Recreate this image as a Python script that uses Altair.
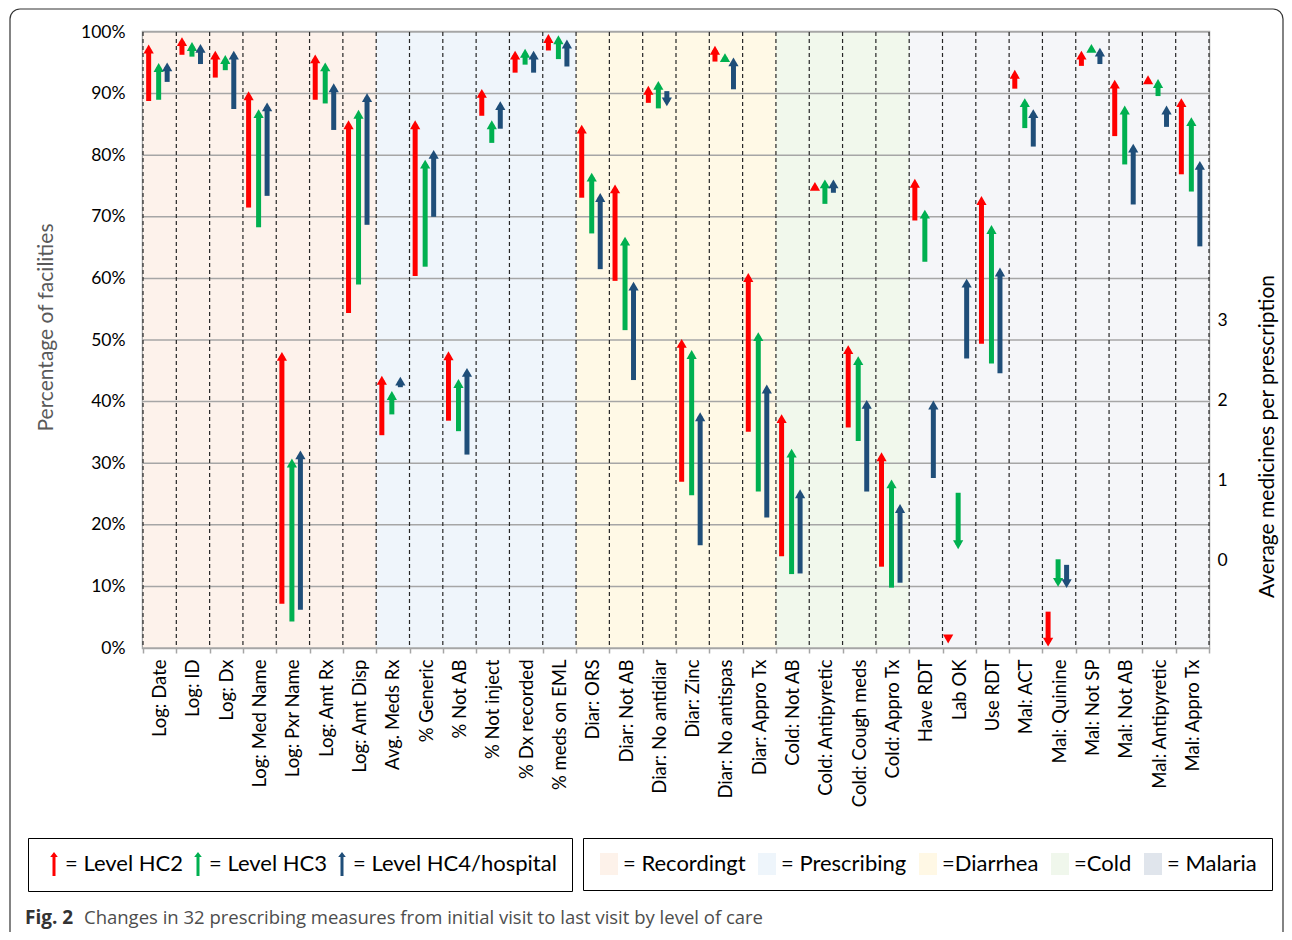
import altair as alt
import pandas as pd

# ---------------- data ----------------
categories = [
    "Log: Date", "Log: ID", "Log: Dx", "Log: Med Name", "Log: Pxr Name", "Log: Amt Rx", "Log: Amt Disp",
    "Avg. Meds Rx", "% Generic", "% Not AB", "% Not inject", "% Dx recorded", "% meds on EML",
    "Diar: ORS", "Diar: Not AB", "Diar: No antidiar", "Diar: Zinc", "Diar: No antispas", "Diar: Appro Tx",
    "Cold: Not AB", "Cold: Antipyretic", "Cold: Cough meds", "Cold: Appro Tx",
    "Have RDT", "Lab OK", "Use RDT", "Mal: ACT", "Mal: Quinine", "Mal: Not SP", "Mal: Not AB",
    "Mal: Antipyretic", "Mal: Appro Tx",
]
group_names = ["Recordingt", "Prescribing", "Diarrhea", "Cold", "Malaria"]
group_sizes = [7, 6, 6, 4, 9]
group_labels = ["= Recordingt", "= Prescribing", "=Diarrhea", "=Cold", "= Malaria"]
group_colors = ["#FBE5D6", "#DEEBF7", "#FFF2CC", "#E2F0D9", "#D6DCE5"]
# how much the plot-area bands are washed out relative to the legend swatches
group_washout = [0.5, 0.5, 0.5, 0.5, 0.75]

level_names = ["Level HC2", "Level HC3", "Level HC4/hospital"]
level_colors = ["#FF0000", "#00B050", "#1F4E79"]
level_xoffsets = [-11, -1, 7.5]

# percentage measures (None = measured on the medicines axis)
hc2_start = [88.8, 96.3, 92.6, 71.5, 7.2, 89.0, 54.4, None, 60.4, 36.9, 86.4, 93.4, 97.0,
             73.1, 59.6, 88.5, 27.0, 95.2, 35.1, 14.9, 74.6, 35.8, 13.2,
             69.4, 2.1, 49.4, 90.8, 5.9, 94.5, 83.1, 91.8, 76.9]
hc2_end = [98.2, 99.4, 97.2, 90.6, 48.3, 96.6, 85.9, None, 85.9, 48.4, 91.0, 97.2, 99.9,
           85.2, 75.5, 91.5, 50.4, 98.0, 61.1, 38.2, 75.9, 49.4, 32.0,
           76.4, 0.5, 73.6, 94.1, 0.0, 97.2, 92.5, 93.2, 89.5]
hc3_start = [89.0, 96.0, 93.8, 68.3, 4.3, 88.4, 59.0, None, 61.9, 35.2, 82.0, 94.7, 95.6,
             67.3, 51.6, 87.6, 24.8, 95.5, 25.4, 12.0, 72.1, 33.6, 9.8,
             62.7, 25.2, 46.2, 84.4, 14.4, 97.0, 78.5, 89.6, 74.1]
hc3_end = [95.2, 98.6, 96.5, 87.7, 31.0, 95.3, 87.6, None, 79.5, 43.9, 85.9, 97.5, 99.7,
           77.4, 67.0, 92.3, 48.6, 96.8, 51.5, 32.6, 76.3, 47.6, 27.6,
           71.4, 15.8, 68.9, 89.5, 9.7, 98.3, 88.3, 92.6, 86.4]
hc4_start = [91.9, 94.8, 87.5, 73.4, 6.2, 84.1, 68.7, None, 70.0, 31.4, 84.3, 93.4, 94.4,
             61.5, 43.5, 90.4, 16.7, 90.7, 21.2, 12.1, 73.9, 25.4, 10.6,
             27.6, 47.0, 44.6, 81.4, 13.5, 94.8, 72.0, 84.6, 65.2]
hc4_end = [95.3, 98.3, 97.2, 88.8, 32.3, 91.9, 90.3, None, 81.1, 45.7, 89.0, 97.2, 99.0,
           74.1, 59.7, 87.7, 38.5, 96.1, 43.0, 26.0, 76.3, 40.5, 23.6,
           40.4, 60.2, 62.0, 87.7, 9.5, 97.7, 82.1, 88.3, 79.3]

# average medicines per prescription (right axis)
avg_meds_category = "Avg. Meds Rx"
avg_meds_start = [1.56, 1.82, 2.16]
avg_meds_end = [2.32, 2.13, 2.31]

pct_ticks = list(range(0, 101, 10))
meds_ticks = [0, 1, 2, 3]
meds_domain = [-1.1, 6.6]

caption_bold = "Fig. 2"
caption_text = "Changes in 32 prescribing measures from initial visit to last visit by level of care"
left_title = "Percentage of facilities"
right_title = "Average medicines per prescription"

# ---------------- tables ----------------
cat_groups = []
for g, n in zip(group_names, group_sizes):
    cat_groups += [g] * n
band_df = pd.DataFrame({"cat": categories, "group": cat_groups})

rows = []
for lvl, s_list, e_list in zip(level_names, [hc2_start, hc3_start, hc4_start], [hc2_end, hc3_end, hc4_end]):
    for cat, s, e in zip(categories, s_list, e_list):
        if s is None:
            continue
        rows.append({"cat": cat, "level": lvl, "start": s, "end": e})
pct_df = pd.DataFrame(rows)
meds_df = pd.DataFrame({"cat": [avg_meds_category] * 3, "level": level_names,
                        "start": avg_meds_start, "end": avg_meds_end})
one_row = pd.DataFrame({"k": [0]})

# ---------------- scales / axes / legends ----------------
FONT = "Lato"
x_scale = alt.Scale(type="band", domain=categories, paddingInner=0, paddingOuter=0)
x_axis = alt.Axis(title=None, labelAngle=270, labelFont=FONT, labelFontSize=18.5, labelColor="black",
                  tickBand="extent", ticks=True, tickColor="#A6A6A6", tickSize=5, tickWidth=1.5,
                  domain=False, grid=False, labelPadding=6)
y_scale = alt.Scale(domain=[0, 100], nice=False, zero=False)
y_axis = alt.Axis(values=pct_ticks, labelExpr="datum.value + '%'", title=left_title,
                  titleFont=FONT, titleFontSize=21, titleFontWeight="normal", titleColor="#595959",
                  titleAngle=270, titleX=-87, titleY=295, titleBaseline="bottom",
                  labelFont=FONT, labelFontSize=17.5, labelColor="black", labelPadding=18,
                  ticks=False, domain=False, grid=False)
meds_scale = alt.Scale(domain=meds_domain, nice=False, zero=False)
meds_axis = alt.Axis(orient="right", values=meds_ticks, title=right_title,
                     titleFont=FONT, titleFontSize=21, titleFontWeight="normal", titleColor="black",
                     titleAngle=270, titleX=68, titleY=404, titleBaseline="bottom",
                     labelFont=FONT, labelFontSize=17.5, labelColor="black", labelPadding=8,
                     ticks=False, domain=False, grid=False)

arrow_path = "M-0.15,1.2 L-0.15,-0.7 L-0.38,-0.7 L0,-1.2 L0.38,-0.7 L0.15,-0.7 L0.15,1.2 Z"
swatch_path = "M-0.9,-1.1 L0.9,-1.1 L0.9,1.1 L-0.9,1.1 Z"

level_legend = alt.Legend(title=None, orient="none", legendX=-115, legendY=806, direction="horizontal",
                          labelExpr="'= ' + datum.label", labelFont=FONT, labelFontSize=22,
                          labelColor="black", labelLimit=400, labelOffset=0,
                          symbolType=arrow_path, symbolSize=400, symbolStrokeWidth=0, symbolOpacity=1,
                          columnPadding=4, padding=15, strokeColor="black")
group_expr = "datum.label"
for g, l in reversed(list(zip(group_names, group_labels))):
    group_expr = f"datum.label == '{g}' ? '{l}' : ({group_expr})"
group_legend = alt.Legend(title=None, orient="none", legendX=440, legendY=806, direction="horizontal",
                          labelExpr=group_expr, labelFont=FONT, labelFontSize=22, labelColor="black",
                          labelLimit=400, labelOffset=3, symbolType=swatch_path, symbolSize=400,
                          symbolStrokeWidth=0, symbolOpacity=1, columnPadding=10, padding=15,
                          strokeColor="black")

color_enc = alt.Color("level:N", scale=alt.Scale(domain=level_names, range=level_colors), legend=level_legend)
X = alt.X("cat:N", scale=x_scale, axis=x_axis)


def arrow_layers(df, yscale, yaxis):
    heads, shafts = [], []
    for lvl, xo in zip(level_names, level_xoffsets):
        for up in (True, False):
            cond = f"datum.level == '{lvl}' && datum.end {'>=' if up else '<'} datum.start"
            base = alt.Chart(df).transform_filter(cond)
            heads.append(
                base.mark_point(shape="triangle-up" if up else "triangle-down", filled=True, size=105,
                                opacity=1, strokeWidth=0, xOffset=xo, yOffset=5.9 if up else -5.9)
                .encode(x=X, y=alt.Y("end:Q", scale=yscale, axis=yaxis), color=color_enc)
            )
            shafts.append(
                base.mark_rule(strokeWidth=5, xOffset=xo, y2Offset=6 if up else -6)
                .encode(x=X, y=alt.Y("start:Q", scale=yscale, axis=yaxis), y2="end:Q", color=color_enc)
            )
    return heads + shafts


bands = alt.Chart(band_df).mark_rect().encode(
    x=X,
    y=alt.YDatum(0, type="quantitative", scale=y_scale, axis=y_axis),
    y2=alt.Y2Datum(100),
    fill=alt.Fill("group:N", scale=alt.Scale(domain=group_names, range=group_colors), legend=group_legend),
)
washout = alt.Chart(band_df).transform_calculate(band_key="datum.group").mark_rect(color="white").encode(
    x=X,
    y=alt.YDatum(0, type="quantitative", scale=y_scale, axis=y_axis),
    y2=alt.Y2Datum(100),
    opacity=alt.Opacity("band_key:N",
                        scale=alt.Scale(type="ordinal", domain=group_names, range=group_washout),
                        legend=None),
)
hgrid = alt.Chart(pd.DataFrame({"v": pct_ticks})).mark_rule(color="#A6A6A6", strokeWidth=1.5).encode(
    y=alt.Y("v:Q", scale=y_scale, axis=y_axis)
)
vgrid = alt.Chart(band_df).mark_rule(color="#262626", strokeWidth=1.2, strokeDash=[4, 3]).encode(
    x=alt.X("cat:N", bandPosition=0, scale=x_scale, axis=x_axis)
)
vgrid_end = alt.Chart(band_df).transform_filter(f"datum.cat == '{categories[-1]}'").mark_rule(
    color="#262626", strokeWidth=1.2, strokeDash=[4, 3]
).encode(x=alt.X("cat:N", bandPosition=1, scale=x_scale, axis=x_axis))

frame = alt.Chart(one_row).mark_rect(filled=False, stroke="#333333", strokeWidth=1.2, cornerRadius=10).encode(
    x=alt.value(-133), x2=alt.value(1140), y=alt.value(-23), y2=alt.value(960)
)
cap1 = alt.Chart(one_row).mark_text(align="left", baseline="middle", font="Open Sans", fontSize=19,
                                    fontWeight="bold", color="#333333").encode(
    x=alt.value(-118), y=alt.value(886), text=alt.value(caption_bold))
cap2 = alt.Chart(one_row).mark_text(align="left", baseline="middle", font="Open Sans", fontSize=18.5,
                                    color="#4D4D4D").encode(
    x=alt.value(-59), y=alt.value(886), text=alt.value(caption_text))

main = alt.layer(bands, washout, hgrid, vgrid, vgrid_end, *arrow_layers(pct_df, y_scale, y_axis),
                 frame, cap1, cap2)
meds = alt.layer(*arrow_layers(meds_df, meds_scale, meds_axis))

chart = (
    alt.layer(main, meds)
    .resolve_scale(y="independent")
    .properties(width=1066, height=616,
                padding={"left": 135, "top": 24, "right": 75, "bottom": 284},
                autosize=alt.AutoSizeParams(type="none"))
    .configure_view(stroke="#A6A6A6", strokeWidth=2.5)
)

chart.save("out.html", embed_options={"renderer": "svg", "actions": False})
